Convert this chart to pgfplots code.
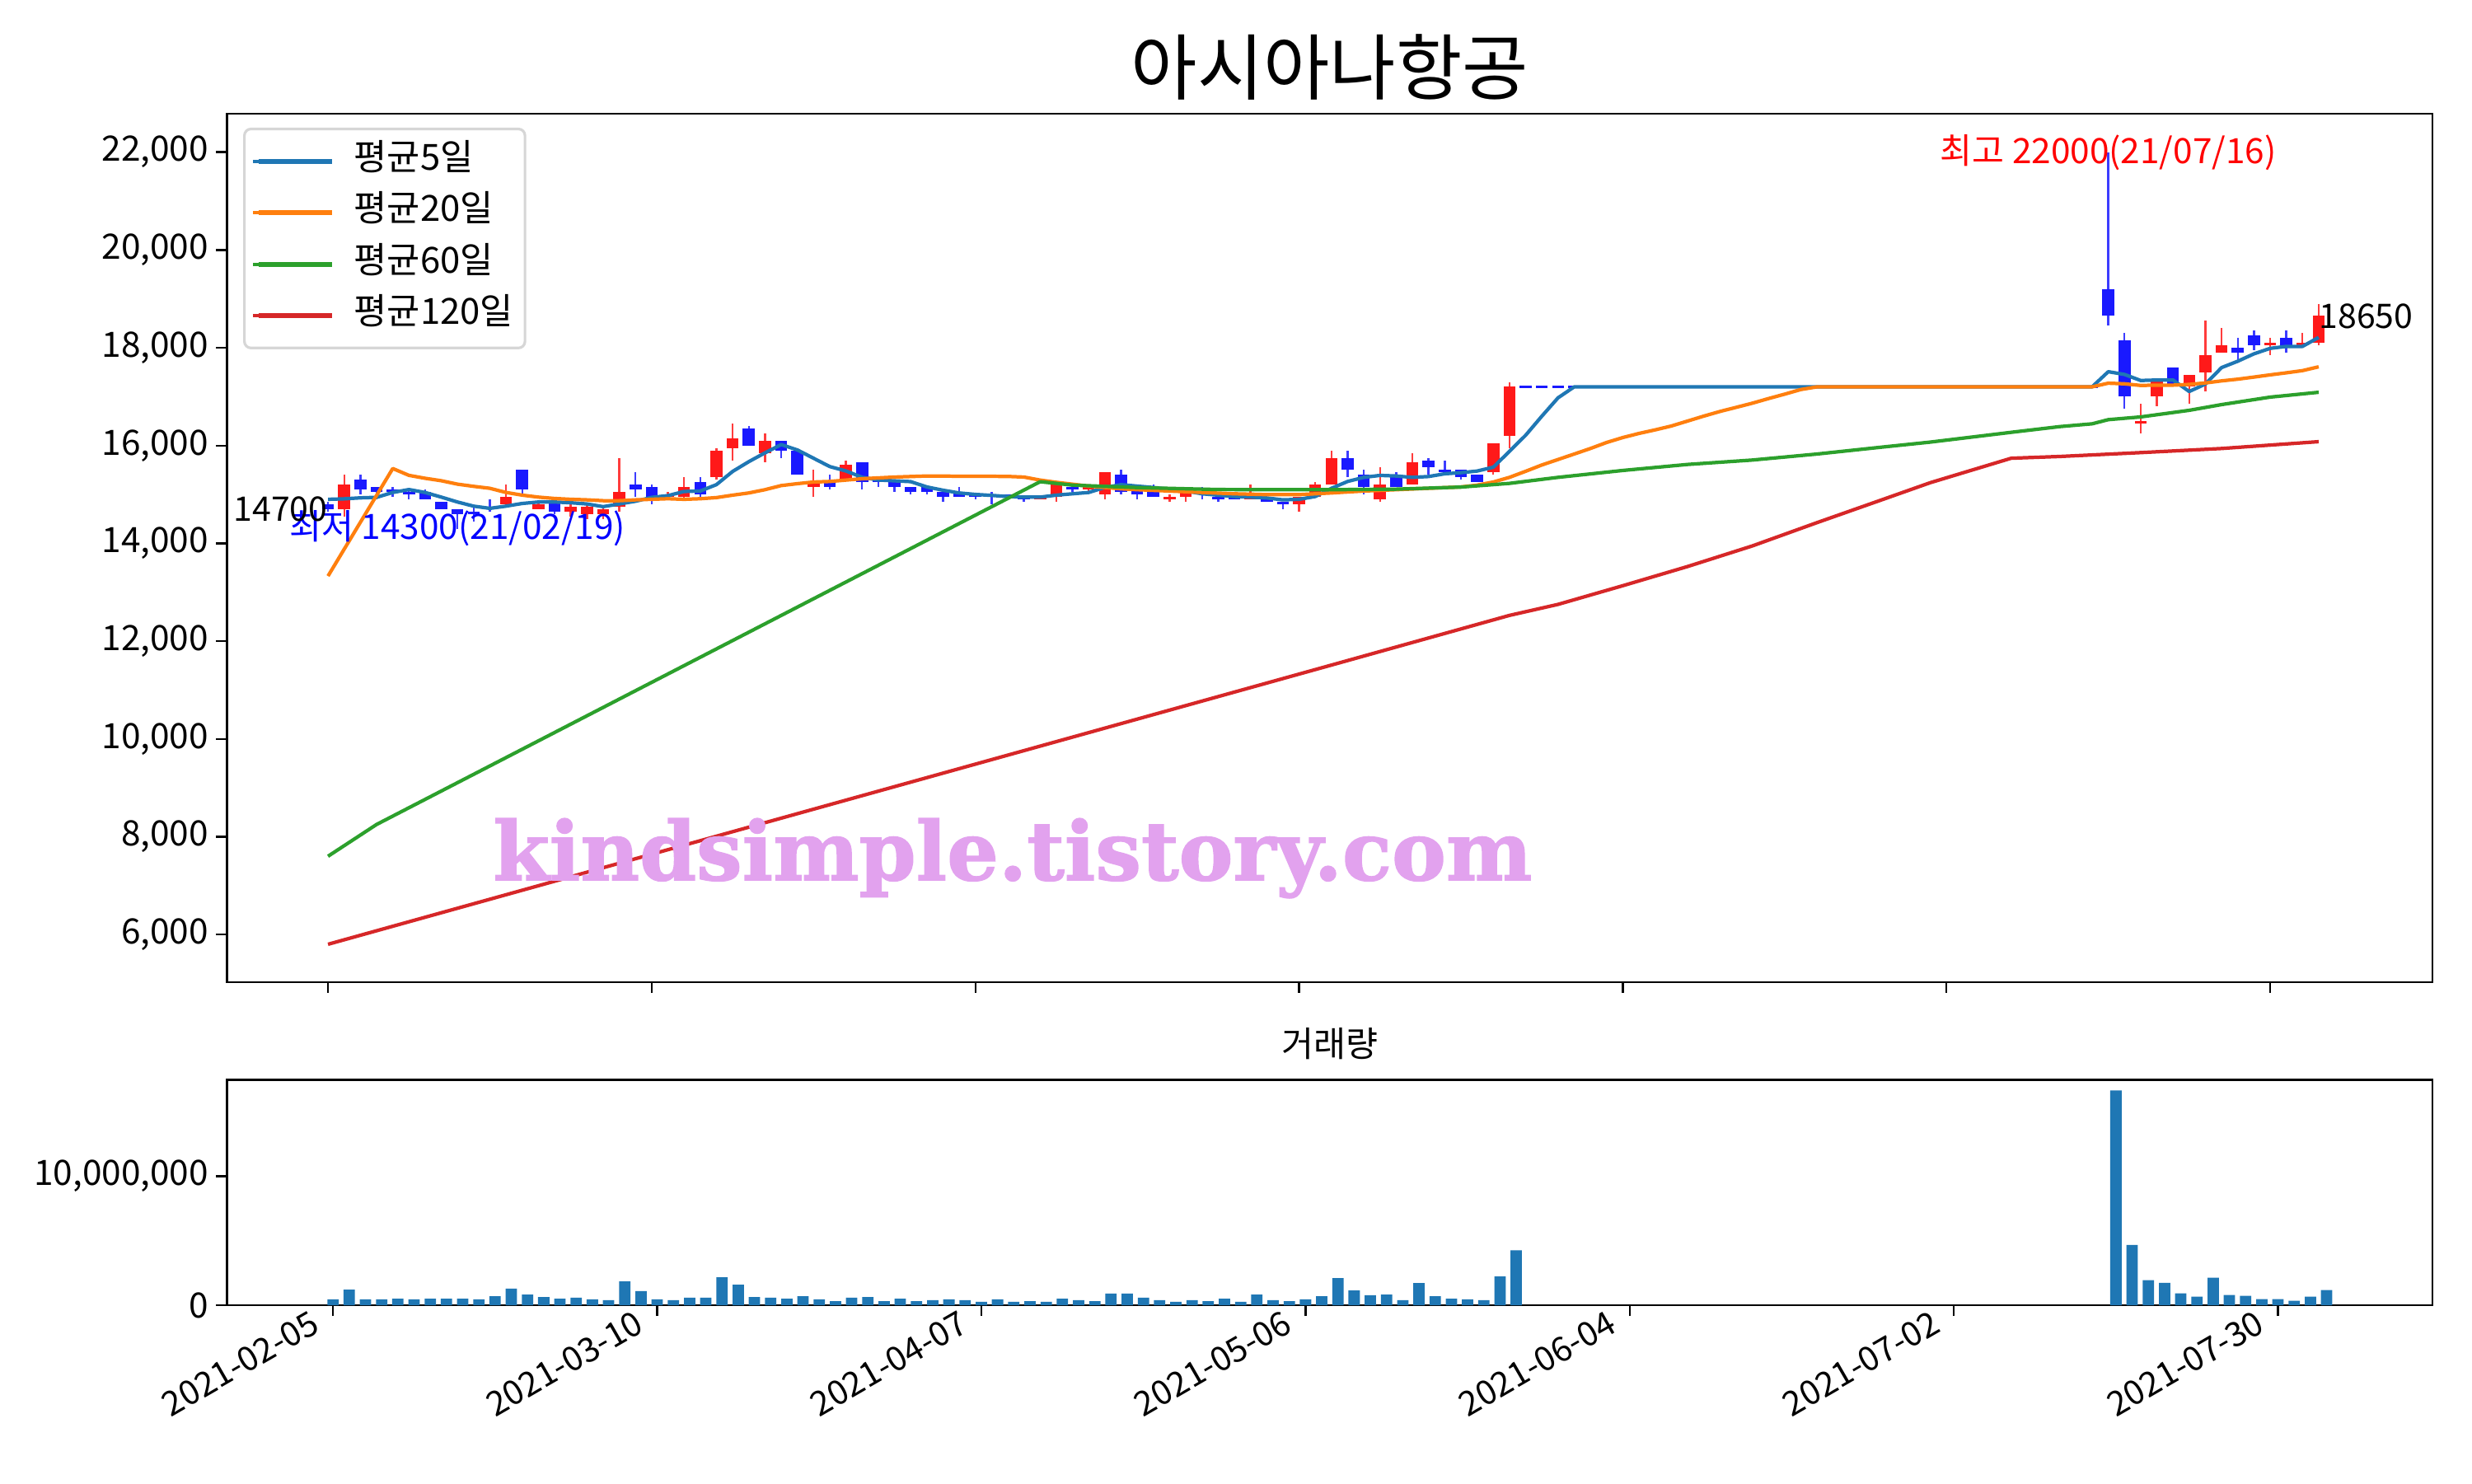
\documentclass[border=0pt]{standalone}
\usepackage{fontspec}
\setmainfont{Noto Sans CJK KR}
\newfontfamily\wmfont{DejaVu Serif}[BoldFeatures={FakeBold=1.5}]
\usepackage{graphicx}
\usepackage{pgfplots}
\pgfplotsset{compat=1.18}
\usepackage{pgfplotstable}

\definecolor{cA}{HTML}{1F77B4}
\definecolor{cB}{HTML}{FF7F0E}
\definecolor{cC}{HTML}{2CA02C}
\definecolor{cD}{HTML}{D62728}
\definecolor{upbody}{RGB}{255,25,25}
\definecolor{dnbody}{RGB}{25,25,255}
\definecolor{upwick}{RGB}{255,60,60}
\definecolor{dnwick}{RGB}{60,60,255}
\definecolor{wm}{RGB}{226,162,238}
\definecolor{legedge}{RGB}{214,214,214}
\newcommand\fs{\fontsize{16}{19}\selectfont}
\newcommand\fn{\fontsize{15.5}{18}\selectfont}
\newcommand\fl{\fontsize{16.5}{19}\selectfont}

% up candles (close > open)
\pgfplotstableread{
i o h l c
1 14700 15400 14550 15200
11 14800 15200 14750 14950
13 14700 14850 14700 14800
15 14650 14800 14550 14750
16 14600 14800 14500 14750
17 14600 14750 14500 14700
18 14750 15750 14650 15050
21 14950 15050 14900 15000
22 14950 15350 14900 15150
24 15350 15950 15300 15900
25 15950 16450 15700 16150
27 15850 16250 15650 16100
30 15150 15500 14950 15250
32 15300 15700 15300 15600
44 14900 14950 14900 14950
45 14950 15200 14850 15200
47 15100 15200 15050 15150
48 15000 15450 14900 15450
52 14900 15000 14850 14950
53 14950 15050 14850 15050
57 14900 15200 14900 14950
60 14800 14950 14650 14950
61 14950 15250 14950 15200
62 15200 15900 15200 15750
65 14900 15550 14850 15200
67 15200 15850 15200 15650
72 15450 16050 15400 16050
73 16200 17300 15950 17200
112 16450 16850 16250 16500
113 17000 17350 16800 17350
115 17200 17450 16850 17450
116 17500 18550 17100 17850
117 17900 18400 17900 18050
120 18050 18200 17850 18100
122 18050 18300 18050 18100
123 18100 18900 18050 18650
}\upc

% down candles (close <= open)
\pgfplotstableread{
i o h l c
0 14800 14850 14650 14700
2 15300 15400 15000 15100
3 15150 15150 14900 15050
4 15100 15150 14950 15050
5 15050 15100 14900 15000
6 15050 15100 14900 14900
7 14850 14850 14700 14700
8 14700 14700 14300 14600
9 14650 14750 14450 14600
10 14750 14900 14650 14700
12 15500 15500 15000 15100
14 14850 14950 14600 14650
19 15200 15450 14950 15100
20 15150 15200 14800 14900
23 15250 15350 14950 15000
26 16350 16400 16000 16000
28 16100 16100 15750 15900
29 15900 15900 15400 15400
31 15250 15400 15100 15150
33 15650 15650 15100 15250
34 15300 15300 15150 15250
35 15250 15250 15050 15150
36 15150 15150 15000 15050
37 15150 15150 15000 15050
38 15050 15050 14850 14950
39 15050 15150 14950 14950
40 15000 15000 14900 14950
41 15000 15050 14800 14950
42 15000 15000 14900 14950
43 14950 14950 14850 14900
46 15150 15150 15050 15100
49 15400 15500 15000 15050
50 15100 15100 14900 15000
51 15050 15200 14950 14950
54 15050 15150 14900 15000
55 14950 14950 14850 14900
56 14950 14950 14900 14900
58 14950 14950 14850 14850
59 14850 14850 14700 14800
63 15750 15900 15350 15500
64 15400 15500 15000 15150
66 15400 15450 15150 15150
68 15700 15750 15400 15550
69 15500 15700 15450 15450
70 15500 15500 15300 15350
71 15400 15400 15250 15250
74 17200 17200 17200 17200
75 17200 17200 17200 17200
76 17200 17200 17200 17200
77 17200 17200 17200 17200
78 17200 17200 17200 17200
79 17200 17200 17200 17200
80 17200 17200 17200 17200
81 17200 17200 17200 17200
82 17200 17200 17200 17200
83 17200 17200 17200 17200
84 17200 17200 17200 17200
85 17200 17200 17200 17200
86 17200 17200 17200 17200
87 17200 17200 17200 17200
88 17200 17200 17200 17200
89 17200 17200 17200 17200
90 17200 17200 17200 17200
91 17200 17200 17200 17200
92 17200 17200 17200 17200
93 17200 17200 17200 17200
94 17200 17200 17200 17200
95 17200 17200 17200 17200
96 17200 17200 17200 17200
97 17200 17200 17200 17200
98 17200 17200 17200 17200
99 17200 17200 17200 17200
100 17200 17200 17200 17200
101 17200 17200 17200 17200
102 17200 17200 17200 17200
103 17200 17200 17200 17200
104 17200 17200 17200 17200
105 17200 17200 17200 17200
106 17200 17200 17200 17200
107 17200 17200 17200 17200
108 17200 17200 17200 17200
109 17200 17200 17200 17200
110 19200 22000 18450 18650
111 18150 18300 16750 17000
114 17600 17600 17200 17200
118 18000 18200 17750 17900
119 18250 18350 17950 18050
121 18200 18350 17900 18050
}\dnc

\pgfplotstableread{
i v
0 14900
1 14910
2 14930
3 14940
4 15040
5 15100
6 15040
7 14945
8 14845
9 14760
10 14715
11 14760
12 14815
13 14845
14 14845
15 14830
16 14805
17 14750
18 14805
19 14860
20 14940
21 14975
22 15060
23 15070
24 15200
25 15470
26 15670
27 15850
28 16020
29 15910
30 15740
31 15570
32 15480
33 15350
34 15295
35 15278
36 15262
37 15153
38 15086
39 15030
40 15000
41 14980
42 14957
43 14945
44 14945
45 14985
46 15013
47 15040
48 15142
49 15200
50 15170
51 15142
52 15108
53 15069
54 15013
55 14985
56 14957
57 14945
58 14928
59 14889
60 14900
61 14957
62 15125
63 15265
64 15349
65 15389
66 15377
67 15349
68 15366
69 15422
70 15445
71 15478
72 15557
73 15880
74 16210
75 16600
76 16975
77 17200
109 17200
110 17510
111 17454
112 17330
113 17340
114 17340
115 17105
116 17257
117 17594
118 17724
119 17875
120 17987
121 18027
122 18027
123 18212
}\maA

\pgfplotstableread{
i v
0 13330
4 15530
5 15390
6 15330
7 15280
8 15210
9 15165
10 15125
11 15040
12 14985
13 14945
14 14917
15 14900
16 14889
17 14872
18 14872
19 14889
20 14900
21 14912
22 14900
23 14912
24 14935
25 14985
26 15030
27 15097
28 15181
29 15220
30 15254
31 15265
32 15293
33 15321
34 15338
35 15355
36 15366
37 15377
38 15375
39 15372
40 15372
41 15370
42 15368
43 15355
44 15293
45 15248
46 15209
47 15170
48 15142
49 15114
50 15097
51 15083
52 15069
53 15055
54 15040
55 15027
56 15013
57 15005
58 14996
59 14996
60 14996
61 15013
62 15030
63 15050
64 15069
65 15083
66 15097
67 15111
68 15125
69 15139
70 15153
71 15190
72 15254
73 15349
74 15473
75 15602
76 15714
77 15826
78 15939
79 16062
80 16163
81 16247
82 16320
83 16399
84 16500
85 16601
86 16696
87 16780
88 16865
89 16960
90 17050
91 17145
92 17200
109 17200
110 17275
111 17262
112 17229
113 17235
114 17235
115 17250
116 17280
117 17322
118 17357
119 17400
120 17445
121 17487
122 17532
123 17610
}\maB

\pgfplotstableread{
i v
0 7600
3 8250
44 15260
46 15190
50 15140
55 15100
62 15097
66 15108
70 15150
73 15226
76 15349
80 15490
84 15613
88 15703
92 15826
96 15967
99 16070
104 16270
107 16387
109 16444
110 16529
112 16585
115 16720
117 16837
120 16990
123 17089
}\maC

\pgfplotstableread{
i v
0 5800
62 11510
73 12526
76 12751
80 13133
84 13525
88 13946
92 14423
96 14889
99 15240
104 15740
107 15776
112 15855
117 15939
123 16079
}\maD

\pgfplotstableread{
i v
0 460000
1 1220000
2 460000
3 460000
4 520000
5 460000
6 520000
7 520000
8 520000
9 460000
10 710000
11 1290000
12 840000
13 650000
14 520000
15 590000
16 460000
17 400000
18 1860000
19 1100000
20 460000
21 400000
22 590000
23 590000
24 2180000
25 1600000
26 650000
27 590000
28 520000
29 710000
30 460000
31 330000
32 590000
33 650000
34 330000
35 520000
36 330000
37 400000
38 460000
39 400000
40 270000
41 460000
42 270000
43 330000
44 270000
45 520000
46 400000
47 330000
48 910000
49 910000
50 590000
51 400000
52 270000
53 400000
54 330000
55 520000
56 270000
57 840000
58 400000
59 330000
60 460000
61 710000
62 2110000
63 1160000
64 780000
65 840000
66 400000
67 1730000
68 710000
69 520000
70 460000
71 400000
72 2240000
73 4270000
110 16630000
111 4680000
112 1950000
113 1750000
114 930000
115 670000
116 2140000
117 800000
118 740000
119 480000
120 480000
121 360000
122 670000
123 1180000
}\vol

\begin{document}
\begin{tikzpicture}
\useasboundingbox (0,0) rectangle (15.68in,-9.41in);

\node[font=\fontsize{33}{38}\selectfont, inner sep=0] at (8.435in,-0.425in) {아시아나항공};
\node[font=\fs, inner sep=0] at (8.435in,-6.62in) {거래량};

\begin{axis}[
  at={(1.44in,-6.23in)}, anchor=south west,
  scale only axis, width=13.99in, height=5.51in,
  xmin=-6.24, xmax=130.04, ymin=5025, ymax=22790,
  axis line style={line width=0.9pt},
  tick align=outside, xtick pos=bottom, ytick pos=left,
  major tick length=5pt, tick style={black, line width=0.9pt},
  scaled y ticks=false,
  xtick={0,20,...,120}, xticklabels={},
  ytick={6000,8000,...,22000},
  yticklabels={{6,000},{8,000},{10,000},{12,000},{14,000},{16,000},{18,000},{20,000},{22,000}},
  yticklabel style={font=\fs},
  legend style={at={(0.0073,0.9837)}, anchor=north west, draw=legedge, line width=1.2pt,
    rounded corners=3pt, font=\fl, row sep=0pt, column sep=7.2pt,
    inner xsep=3.3pt, inner ysep=3pt,
    nodes={text height=10.8pt, text depth=2.8pt, inner ysep=5pt}},
  legend cell align=left,
  legend image code/.code={\path (0pt,0pt) -- (2.3pt,0pt); \draw[#1, line width=2.2pt] (2.3pt,0pt) -- (35.9pt,0pt);},
]
% wicks
\addplot[forget plot, draw=none, mark=none, error bars/.cd, y dir=both, y explicit, error mark=none,
  error bar style={draw=dnwick, line width=0.9pt}]
  table[x=i, y expr={(\thisrow{h}+\thisrow{l})/2}, y error expr={(\thisrow{h}-\thisrow{l})/2}] {\dnc};
\addplot[forget plot, draw=none, mark=none, error bars/.cd, y dir=both, y explicit, error mark=none,
  error bar style={draw=upwick, line width=0.9pt}]
  table[x=i, y expr={(\thisrow{h}+\thisrow{l})/2}, y error expr={(\thisrow{h}-\thisrow{l})/2}] {\upc};
% bodies
\addplot[forget plot, draw=none, mark=none, error bars/.cd, y dir=both, y explicit, error mark=none,
  error bar style={draw=dnbody, line width=5.5pt}]
  table[x=i, y expr={(\thisrow{o}+\thisrow{c})/2}, y error expr={max(abs(\thisrow{o}-\thisrow{c})/2,25)}] {\dnc};
\addplot[forget plot, draw=none, mark=none, error bars/.cd, y dir=both, y explicit, error mark=none,
  error bar style={draw=upbody, line width=5.5pt}]
  table[x=i, y expr={(\thisrow{o}+\thisrow{c})/2}, y error expr={max(abs(\thisrow{o}-\thisrow{c})/2,25)}] {\upc};

\addplot[cA, line width=1.6pt, line join=round, mark=none] table[x=i,y=v] {\maA};
\addlegendentry{평균5일}
\addplot[cB, line width=1.6pt, line join=round, mark=none] table[x=i,y=v] {\maB};
\addlegendentry{평균20일}
\addplot[cC, line width=1.6pt, line join=round, mark=none] table[x=i,y=v] {\maC};
\addlegendentry{평균60일}
\addplot[cD, line width=1.6pt, line join=round, mark=none] table[x=i,y=v] {\maD};
\addlegendentry{평균120일}

\node[text=red, font=\fs, inner sep=0] at (axis cs:110,22000) {최고 22000(21/07/16)};
\node[text=blue, font=\fs, inner sep=0] at (axis cs:8,14300) {최저 14300(21/02/19)};
\node[anchor=east, font=\fn, inner sep=0] at (axis cs:0,14700) {14700};
\node[anchor=west, font=\fn, inner sep=0] at (axis cs:123,18650) {18650};
\node[text=wm, inner sep=0] at (axis cs:42.3,7560) {\resizebox{6.59in}{!}{\wmfont\bfseries kindsimple.tistory.com}};
\end{axis}

\begin{axis}[
  at={(1.44in,-8.28in)}, anchor=south west,
  scale only axis, width=13.99in, height=1.43in,
  xmin=-6.54, xmax=129.54, ymin=0, ymax=17450000,
  axis line style={line width=0.9pt},
  tick align=outside, xtick pos=bottom, ytick pos=left,
  major tick length=5pt, tick style={black, line width=0.9pt},
  scaled y ticks=false,
  xtick={0,20,...,120},
  xticklabels={2021-02-05,2021-03-10,2021-04-07,2021-05-06,2021-06-04,2021-07-02,2021-07-30},
  xticklabel style={xshift=-5pt, rotate=30, anchor=east, font=\fn},
  ytick={0,10000000}, yticklabels={0,{10,000,000}},
  yticklabel style={font=\fs},
]
\addplot[ybar, bar width=0.7, fill=cA, draw=none] table[x=i,y=v] {\vol};
\end{axis}
\end{tikzpicture}
\end{document}
